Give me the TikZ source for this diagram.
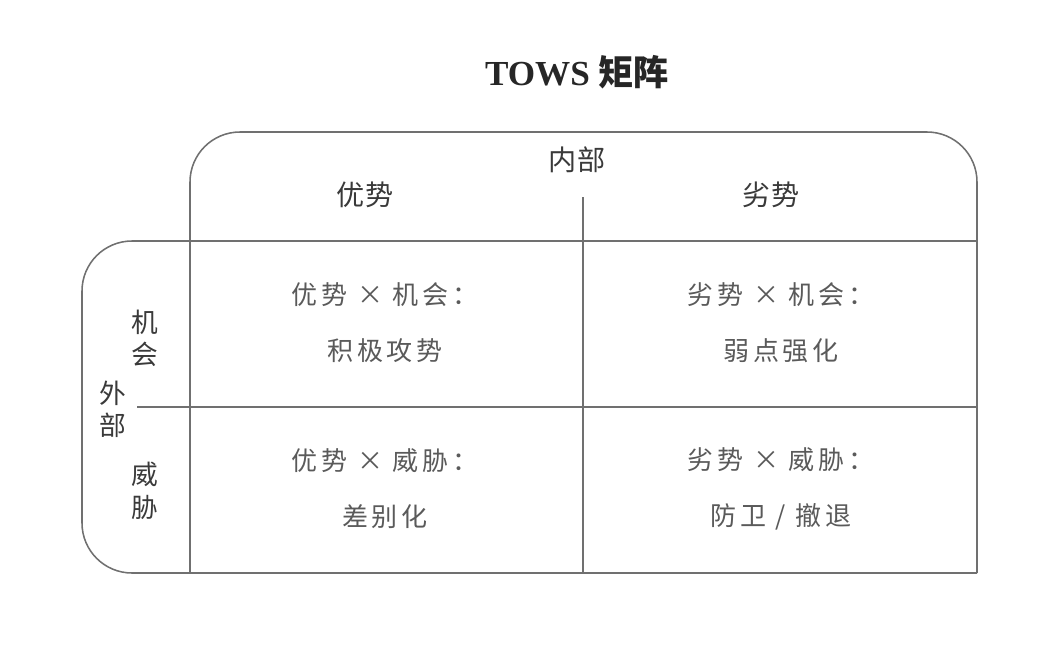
\documentclass[tikz,border=0pt]{standalone}
\usepackage{fontspec}
\setmainfont{Liberation Serif}
\newfontfamily\cjk{Noto Sans CJK SC}
\newfontfamily\cjkcell[LetterSpace=15]{Noto Sans CJK SC}
\usetikzlibrary{positioning}

\definecolor{frame}{HTML}{707070}
\definecolor{ink}{HTML}{3A3A3A}
\definecolor{soft}{HTML}{5A5A5A}

\begin{document}
\begin{tikzpicture}[
  x=0.025cm, y=-0.025cm,
  line width=1.1pt,
  head/.style={font=\cjk\fontsize{20}{24}\selectfont, text=ink, inner sep=0pt},
  side/.style={font=\cjk\fontsize{19}{23}\selectfont, text=ink, align=center, inner sep=0pt},
  cell/.style={font=\cjkcell\fontsize{18.5}{40}\selectfont, text=soft, align=center, inner sep=0pt}
]
\useasboundingbox (0,0) rectangle (1040,666);

\node[font=\bfseries\fontsize{25}{30}\selectfont, text=black!85] (title) at (577,72) {TOWS {\cjk 矩阵}};

% Frames
\draw[frame, rounded corners=1.25cm] (190,573) -- (190,132) -- (977,132) -- (977,573);
\draw[frame, rounded corners=1.25cm] (190,241) -- (82,241) -- (82,573) -- (190,573);
\draw[frame] (190,241) -- (977,241);
\draw[frame] (190,573) -- (977,573);

% Headings
\node[head] (inner) at (577,160) {内部};
\node[head] (str)   at (365,195) {优势};
\node[head] (weak)  at (771,195) {劣势};
\node[side] (opp)   at (145,338) {机\\会};
\node[side] (outer) at (113,409) {外\\部};
\node[side] (thr)   at (145,491) {威\\胁};

% Dividers
\coordinate (vtop) at (583,197);
\coordinate (vbot) at (583,573);
\coordinate (hend) at (977,407);
\draw[frame] (vtop) -- (vbot);
\draw[frame] (outer.east |- hend) ++(10,0) -- (hend);

% Cells
\node[cell] (so) at (385,323) {优势 × 机会：\\积极攻势};
\node[cell] (wo) at (781,323) {劣势 × 机会：\\弱点强化};
\node[cell] (st) at (385,489) {优势 × 威胁：\\差别化};
\node[cell] (wt) at (781,489) {劣势 × 威胁：\\防卫 / 撤退};

\end{tikzpicture}
\end{document}
